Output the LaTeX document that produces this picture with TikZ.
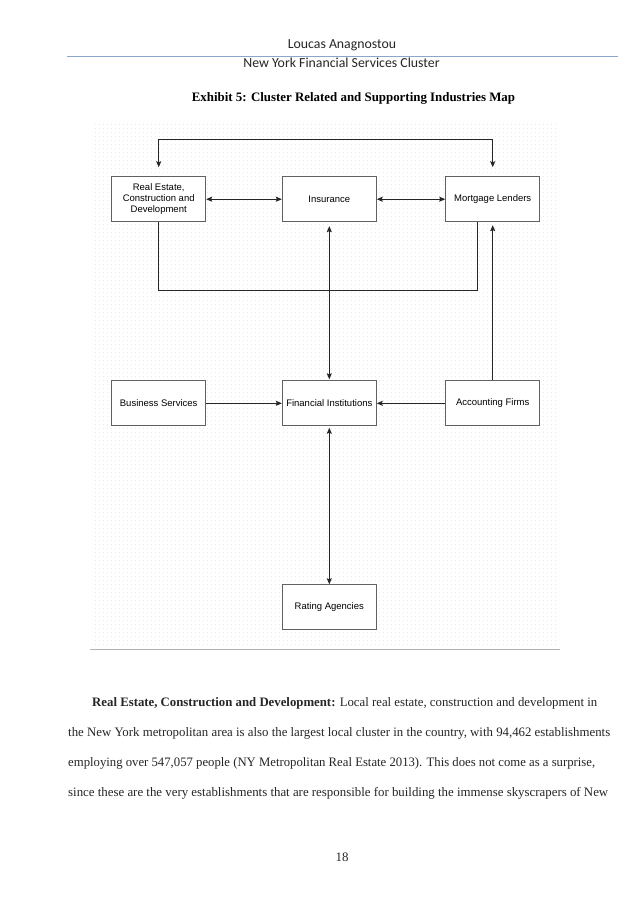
\documentclass[tikz,border=0pt]{standalone}
\usepackage{fontspec}
\setmainfont{Liberation Serif}
\newfontfamily\hdrfont{Carlito}
\newfontfamily\boxfont{Liberation Sans}
\usetikzlibrary{arrows.meta,patterns.meta}
\newcommand{\bodysize}{\fontsize{12.9pt}{15pt}\selectfont}
\begin{document}
\begin{tikzpicture}[x=1pt,y=-1pt,
  >={Stealth[length=6pt,width=5pt,inset=1pt]},
  box/.style={draw=black!62,line width=0.9pt,fill=white,minimum width=94pt,minimum height=45pt,
    inner sep=1pt,align=center,font=\boxfont\fontsize{9.5pt}{10.7pt}\selectfont},
  conn/.style={draw=black!85,line width=0.9pt},
  hdr/.style={font=\hdrfont\fontsize{13.8pt}{15pt}\selectfont,anchor=base,inner sep=0pt,text=black!85},
  bodytxt/.style={font=\bodysize,anchor=base west,inner sep=0pt,text=black!85}
]
\useasboundingbox (0,0) rectangle (638,904);
\fill[white] (0,0) rectangle (638,904);

% header
\node[hdr] (author) at (342,49) {Loucas Anagnostou};
\coordinate (hl) at (67,56.5);
\coordinate (hr) at (618,56.5);
\draw[color={rgb,255:red,140;green,165;blue,205},line width=1pt] (hl) -- (hr);
\node[hdr] (sub) at (341.5,68) {New York Financial Services Cluster};
\node[font=\bodysize\bfseries,anchor=base,inner sep=0pt] (title) at (353.5,101.5)
  {Exhibit 5: Cluster Related and Supporting Industries Map};

% dotted grid background
\fill[pattern={Dots[distance=4pt,radius=0.45pt]},pattern color=black!15] (95,122) rectangle (557,647);
\coordinate (gl) at (90,649.3);
\coordinate (gr) at (560,649.3);
\draw[black!30,line width=0.9pt] (gl) -- (gr);

% boxes
\node[box] (re)  at (158.7,199.2) {Real Estate,\\Construction and\\Development};
\node[box] (ins) at (329.3,199.2) {Insurance};
\node[box] (ml)  at (492.7,199.2) {Mortgage Lenders};
\node[box] (bs)  at (158.7,403.3) {Business Services};
\node[box] (fi)  at (329.3,403.3) {Financial Institutions};
\node[box] (af)  at (492.7,403.3) {Accounting Firms};
\node[box] (ra)  at (329.3,607.2) {Rating Agencies};

% connectors
\coordinate (topy) at (0,139);
\coordinate (boty) at (0,290);
\draw[conn,<->] ([yshift=9pt]re.north) -- (re.north |- topy) -- (ml.north |- topy) -- ([yshift=9pt]ml.north);
\draw[conn,<->] (re.east) -- (ins.west);
\draw[conn,<->] (ins.east) -- (ml.west);
\draw[conn] (re.south) -- (re.south |- boty) -- ([xshift=-15pt]ml.south |- boty) -- ([xshift=-15pt]ml.south);
\draw[conn,->] (af.north) -- ([yshift=-3pt]ml.south);
\draw[conn,<->] ([yshift=-4pt]ins.south) -- ([yshift=1pt]fi.north);
\draw[conn,->] (bs.east) -- (fi.west);
\draw[conn,->] (af.west) -- (fi.east);
\draw[conn,<->] ([yshift=-1.5pt]fi.south) -- (ra.north);

% body text
\node[bodytxt] (l1) at (92,706.5) {\resizebox{505pt}{\height}{\textbf{Real Estate, Construction and Development:} Local real estate, construction and development in}};
\node[bodytxt] (l2) at (68,736.5) {\resizebox{542pt}{\height}{the New York metropolitan area is also the largest local cluster in the country, with 94,462 establishments}};
\node[bodytxt] (l3) at (68,766.3) {\resizebox{527pt}{\height}{employing over 547,057 people (NY Metropolitan Real Estate 2013). This does not come as a surprise,}};
\node[bodytxt] (l4) at (68,796.5) {\resizebox{540pt}{\height}{since these are the very establishments that are responsible for building the immense skyscrapers of New}};
\node[font=\bodysize,anchor=base,inner sep=0pt,text=black!85] (pg) at (342,861.5) {18};
\end{tikzpicture}
\end{document}
